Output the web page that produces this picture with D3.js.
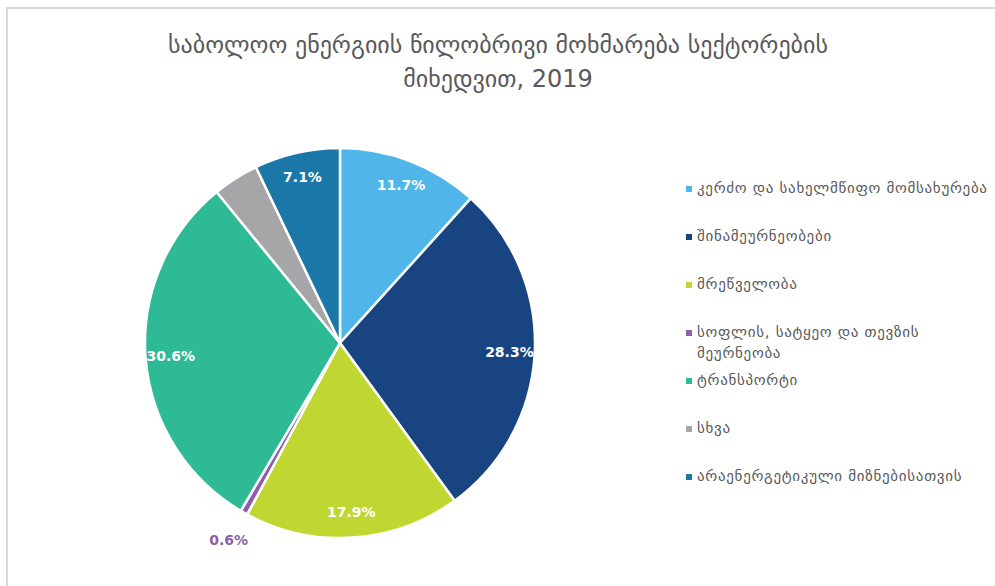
<!DOCTYPE html>
<html lang="ka">
<head>
    <meta charset="UTF-8">
    <title>საბოლოო ენერგიის წილობრივი მოხმარება</title>
    <script src="https://d3js.org/d3.v7.min.js"></script>
    <style>
        body {
            margin: 0;
            background: #fff;
            font-family: "DejaVu Sans", sans-serif;
        }
        .title {
            font-size: 24px;
            fill: #595959;
            text-anchor: middle;
        }
        .slice {
            stroke: #fff;
            stroke-width: 2.5px;
        }
        .pct {
            font-size: 14px;
            font-weight: bold;
            fill: #fff;
            text-anchor: middle;
        }
        .legend-text {
            font-size: 15px;
            letter-spacing: 0.7px;
            fill: #595959;
        }
    </style>
</head>
<body>
    <svg id="chart"></svg>

    <script>
        // sectors and their shares (%), clockwise from 12 o'clock
        const sectors = [
            "კერძო და სახელმწიფო  მომსახურება",
            "შინამეურნეობები",
            "მრეწველობა",
            "სოფლის, სატყეო და თევზის მეურნეობა",
            "ტრანსპორტი",
            "სხვა",
            "არაენერგეტიკული მიზნებისათვის"
        ];
        const shares = [11.7, 28.3, 17.9, 0.6, 30.6, 3.8, 7.1];
        const showLabel = [true, true, true, true, true, false, true];
        const colors = ["#50b5e8", "#184582", "#bfd730", "#8e5faa", "#2eba95", "#a6a6a9", "#1a77a7"];
        const legendLines = [
            ["კერძო და სახელმწიფო  მომსახურება"],
            ["შინამეურნეობები"],
            ["მრეწველობა"],
            ["სოფლის, სატყეო და თევზის", "მეურნეობა"],
            ["ტრანსპორტი"],
            ["სხვა"],
            ["არაენერგეტიკული მიზნებისათვის"]
        ];
        const titleLines = ["საბოლოო ენერგიის წილობრივი მოხმარება სექტორების", "მიხედვით, 2019"];

        const width = 995;
        const height = 586;
        const cx = 340, cy = 343, radius = 195;

        const svg = d3.select("#chart")
            .attr("width", width)
            .attr("height", height);

        // chart area frame (only top and left visible)
        svg.append("path")
            .attr("d", `M7,${height} V8 H${width}`)
            .attr("fill", "none")
            .attr("stroke", "#d9d9d9")
            .attr("stroke-width", 2);

        // title
        svg.append("g").selectAll("text")
            .data(titleLines)
            .enter().append("text")
            .attr("class", "title")
            .attr("x", 498)
            .attr("y", (d, i) => 53 + i * 34)
            .text(d => d);

        const data = sectors.map((s, i) => ({ name: s, value: shares[i], color: colors[i], label: showLabel[i] }));

        const pie = d3.pie().value(d => d.value).sort(null);
        const arc = d3.arc().innerRadius(0).outerRadius(radius);
        const labelArc = d3.arc().innerRadius(radius * 0.87).outerRadius(radius * 0.87);
        const outerArc = d3.arc().innerRadius(radius * 1.16).outerRadius(radius * 1.16);

        const arcs = pie(data);
        const g = svg.append("g").attr("transform", `translate(${cx},${cy})`);

        g.selectAll(".slice")
            .data(arcs)
            .enter().append("path")
            .attr("class", "slice")
            .attr("fill", d => d.data.color)
            .attr("d", arc);

        g.selectAll(".pct")
            .data(arcs.filter(d => d.data.label))
            .enter().append("text")
            .attr("class", "pct")
            .attr("transform", d => {
                const p = d.data.value < 2 ? outerArc.centroid(d) : labelArc.centroid(d);
                return `translate(${p[0]},${p[1]})`;
            })
            .attr("dy", "0.35em")
            .style("fill", d => d.data.value < 2 ? d.data.color : "#fff")
            .text(d => d.data.value.toFixed(1) + "%");

        // legend
        const legend = svg.append("g").attr("transform", "translate(686,0)");
        const item = legend.selectAll(".item")
            .data(data)
            .enter().append("g")
            .attr("class", "item")
            .attr("transform", (d, i) => `translate(0,${193 + i * 48})`);

        item.append("rect")
            .attr("x", 0)
            .attr("y", -7)
            .attr("width", 6)
            .attr("height", 6)
            .attr("fill", d => d.color);

        item.append("text")
            .attr("class", "legend-text")
            .attr("x", 11)
            .attr("y", 0)
            .selectAll("tspan")
            .data((d, i) => legendLines[i])
            .enter().append("tspan")
            .attr("x", 11)
            .attr("dy", (d, j) => j === 0 ? 0 : 21)
            .text(d => d);
    </script>
</body>
</html>
